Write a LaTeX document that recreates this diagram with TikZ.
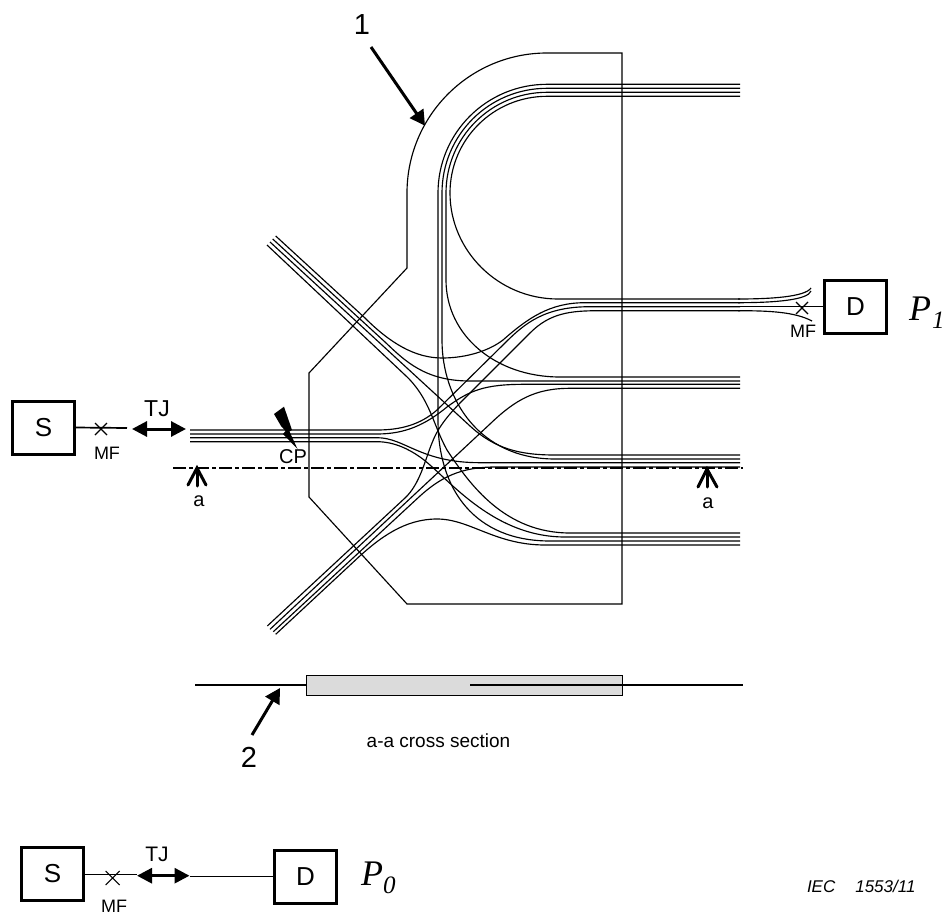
\documentclass[tikz,border=0pt]{standalone}
\usepackage{fontspec}
\setmainfont{Liberation Sans}
\newfontfamily\ptimes{Liberation Serif}
\usetikzlibrary{arrows.meta}
\newcommand{\fs}[1]{\fontsize{#1}{#1}\selectfont}
\tikzset{
  every node/.style={inner sep=0pt,outer sep=0pt},
  fibre/.style={line width=1.15pt,black},
  outline/.style={line width=1.15pt,black},
  devbox/.style={draw=black,line width=3pt,minimum width=62pt,minimum height=53pt,font=\fs{26}},
  lead/.style={line width=1.7pt,black},
  cross/.style={line width=1.1pt,black},
  lbl/.style={font=\fs{18}},
  biglbl/.style={font=\fs{29}},
  tjarrow/.style={line width=3pt,{Triangle[length=15pt,width=15pt]}-{Triangle[length=15pt,width=15pt]}},
  refarrow/.style={line width=3pt,-{Triangle[length=15pt,width=16pt]}},
  secarrow/.style={line width=3pt,line cap=round},
  sect/.style={line width=1.8pt},
}
\begin{document}
\begin{tikzpicture}[x=1pt,y=-1pt]
\useasboundingbox (0,0) rectangle (943,915);
% outline
\draw[outline] (547,53) -- (622,53) -- (622,604) -- (407,604) -- (309,497) -- (309,373) -- (407,268) -- (407,193) .. controls (407,115.7) and (469.7,53) .. (547,53);
% top bundle
\draw[fibre] (740,96.3) -- (547,96.3) .. controls (493.4,96.3) and (450,139.4) .. (450,193) .. controls (450,250.6) and (498,299) .. (558,299) -- (740,299);
\draw[fibre] (740,92.3) -- (547,92.3) .. controls (491.2,92.3) and (446,137.2) .. (446,193) -- (446,280) .. controls (446,335) and (495,377) .. (560,377) -- (740,377);
\draw[fibre] (740,88.3) -- (547,88.3) .. controls (489,88.3) and (442,135) .. (442,193) -- (442,340) .. controls (442,400) and (480,459) .. (555,459) -- (740,459);
\draw[fibre] (740,84.3) -- (547,84.3) .. controls (486.8,84.3) and (438,132.8) .. (438,193) -- (438,420) .. controls (438,490) and (475,541) .. (550,541) -- (740,541);
% upper-left bundle
\draw[fibre] (275.7,236) -- (365,318) .. controls (390,343) and (415,358) .. (442,358) .. controls (468,358) and (490,350) .. (503,340) .. controls (528,318) and (550,302.7) .. (585,302.7) -- (740,302.7);
\draw[fibre] (272.7,239) -- (385,342) .. controls (405,361) and (425,381) .. (470,381) -- (740,381);
\draw[fibre] (270,242) -- (470,426) .. controls (495,449) and (520,455) .. (555,455) -- (740,455);
\draw[fibre] (267,245) -- (405,375) .. controls (430,398) and (433,425) .. (447,450) .. controls (470,485) and (505,533) .. (570,533) -- (740,533);
% left bundle
\draw[fibre] (190,430) -- (377,430) .. controls (400,430) and (420,425) .. (437,410) -- (505,343) .. controls (525,323) and (545,306.7) .. (590,306.7) -- (740,306.7);
\draw[fibre] (190,434) -- (377,434) .. controls (405,434) and (425,425) .. (447,407) .. controls (470,390) and (485,384.3) .. (525,384.3) -- (740,384.3);
\draw[fibre] (190,437.7) -- (377,437.7) .. controls (405,437.7) and (420,462.7) .. (480,462.7) -- (740,462.7);
\draw[fibre] (190,441.7) -- (377,441.7) .. controls (395,441.7) and (410,450) .. (420,457) .. controls (445,474) and (490,537) .. (565,537) -- (740,537);
% lower-left bundle
\draw[fibre] (267.3,626) -- (405,498) .. controls (420,484) and (425,460) .. (432,443) .. controls (437,430) and (445,418) .. (463,400) -- (530,333) .. controls (550,313) and (570,310.7) .. (600,310.7) -- (740,310.7);
\draw[fibre] (270,629.3) -- (490,424) .. controls (515,400) and (535,388.3) .. (570,388.3) -- (740,388.3);
\draw[fibre] (273.3,631.7) -- (420,496) .. controls (440,478) and (460,467) .. (495,467) -- (740,467);
\draw[fibre] (275.7,634.3) -- (355,560.5) .. controls (380,537) and (405,519) .. (437,519) .. controls (470,519) and (495,545) .. (545,545) -- (740,545);
% flared ends at P1
\draw[fibre] (738,299) .. controls (770,299) and (805,297) .. (811,288);
\draw[fibre] (738,302.7) .. controls (775,302.7) and (808,300) .. (811,291);
\draw[fibre] (738,310.7) .. controls (770,310.7) and (795,312) .. (812,321);
% section line
\draw[line width=1.8pt,dash pattern=on 13pt off 3pt on 4pt off 3pt] (173,468) -- (743,468);
% source and detector P1
\node[devbox] (S1) at (43.5,427.5) {S};
\node[devbox] (D1) at (855.5,306.5) {D};
\coordinate (S1end) at (127,428);
\coordinate (X1) at (101,429);
\coordinate (X2) at (802,308);
\coordinate (F1) at (738,306.7);
\draw[lead] (S1.east) -- (S1end);
\draw[cross] (X1) ++(-6,-6) -- ++(12,12) ++(-12,0) -- ++(12,-12);
\draw[line width=1.15pt] (F1) -- (D1.west |- F1);
\draw[cross] (X2) ++(-6,-6) -- ++(12,12) ++(-12,0) -- ++(12,-12);
\coordinate (TJa) at (132,429);
\coordinate (TJb) at (186,429);
\draw[tjarrow] (TJa) -- (TJb);
\node[lbl] (mf1) at (107,453) {MF};
\node[font=\fs{23}] (tj1) at (157,409) {TJ};
\node[lbl] (mf2) at (803,331) {MF};
\node[anchor=base west,font=\ptimes\itshape\fs{36}] (p1) at (909,320) {P};
\node[anchor=base west,font=\ptimes\itshape\fs{25}] (p1s) at (932,328) {1};
% CP
\fill[black] (274,414) -- (284,406.7) -- (292,430) -- (289.5,431.5) -- (297.5,449) -- (283,434) -- (285.5,431) -- (281,426) -- cycle;
\node[font=\fs{20}] (cp) at (293,457) {CP};
% section marks
\coordinate (a1t) at (197,468);
\coordinate (a1b) at (197,486);
\draw[secarrow] (a1b) -- (a1t);
\draw[secarrow] (188,485) -- (a1t) -- (206,485);
\node[font=\fs{20}] (a1) at (199,501) {a};
\coordinate (a2t) at (707,469);
\coordinate (a2b) at (707,487);
\draw[secarrow] (a2b) -- (a2t);
\draw[secarrow] (698,487) -- (a2t) -- (717,487);
\node[font=\fs{20}] (a2) at (708,503) {a};
% reference labels
\node[biglbl] (n1) at (362,25) {1};
\coordinate (n1s) at (371,47);
\coordinate (n1e) at (425,125.7);
\draw[refarrow] (n1s) -- (n1e);
\node[biglbl] (n2) at (249,757) {2};
\coordinate (n2s) at (252,735);
\coordinate (n2e) at (280,688);
\draw[refarrow] (n2s) -- (n2e);
% cross section
\coordinate (secL) at (195,685);
\coordinate (secR) at (743,684.5);
\coordinate (secM) at (470,684.5);
\node[draw=black,fill=black!14,line width=1.3pt,minimum width=316pt,minimum height=20.5pt] (sec) at (464.5,685.5) {};
\draw[sect] (secL) -- (sec.west |- secL);
\draw[line width=2pt] (secM) -- (secR);
\node[font=\fs{19}] (caption) at (438.5,741) {a-a cross section};
% P0 setup
\node[devbox] (S2) at (52.5,874) {S};
\node[devbox] (D2) at (305.5,876.5) {D};
\coordinate (S2end) at (137,874.5);
\coordinate (X3) at (112.7,878);
\coordinate (TJc) at (137,875.7);
\coordinate (TJd) at (189.5,875.7);
\draw[lead] (S2.east |- S2end) -- (S2end);
\draw[cross] (X3) ++(-7,-7) -- ++(14,14) ++(-14,0) -- ++(14,-14);
\draw[tjarrow] (TJc) -- (TJd);
\draw[lead] (TJd |- D2.west) -- (D2.west);
\node[font=\fs{21}] (tj2) at (157,854) {TJ};
\node[lbl] (mf3) at (114,906) {MF};
\node[anchor=base west,font=\ptimes\itshape\fs{36}] (p0) at (361,885) {P};
\node[anchor=base west,font=\ptimes\itshape\fs{25}] (p0s) at (383,893) {0};
\node[anchor=base west,font=\itshape\fs{17}] (iec) at (807,892) {IEC\hspace{20pt}1553/11};
\end{tikzpicture}
\end{document}
